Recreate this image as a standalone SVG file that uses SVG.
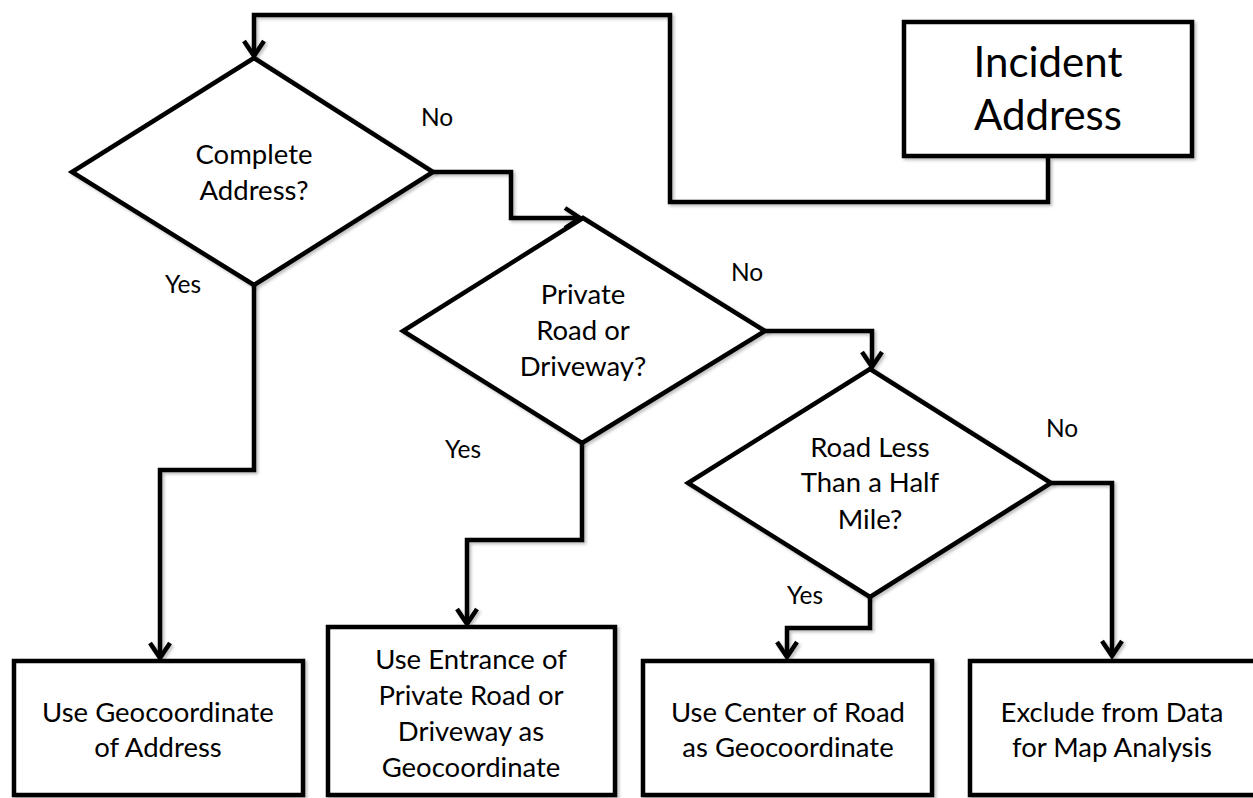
<svg xmlns="http://www.w3.org/2000/svg" width="1253" height="798" viewBox="0 0 1253 798">
  <defs>
    <marker id="arrow" markerUnits="userSpaceOnUse" markerWidth="32" markerHeight="32" viewBox="-16 -16 32 32" refX="0" refY="0" orient="auto" overflow="visible">
      <path d="M-15,-10 L0,0 L-15,10" fill="none" stroke="#000" stroke-width="4.5"/>
    </marker>
    <filter id="shadow" x="-10%" y="-10%" width="130%" height="130%">
      <feDropShadow dx="2" dy="2" stdDeviation="1.5" flood-color="#000" flood-opacity="0.25"/>
    </filter>
    <style>
      .shape { fill: #fff; stroke: #000; stroke-width: 4.5; stroke-linejoin: miter; }
      .conn { fill: none; stroke: #000; stroke-width: 4.5; stroke-linejoin: miter; }
      text { font-family: Lato, "Open Sans", "Liberation Sans", sans-serif; fill: #000; text-anchor: middle; }
      .t { font-size: 27.5px; }
      .lbl { font-size: 24.5px; }
      .big { font-size: 42px; }
    </style>
  </defs>
  <rect width="1253" height="798" fill="#fff"/>

  <g id="connectors" filter="url(#shadow)">
    <path class="conn" d="M1048,158 V202 H670 V15 H254 V56" marker-end="url(#arrow)"/>
    <path class="conn" d="M433,172 H511 V218 H580" marker-end="url(#arrow)"/>
    <path class="conn" d="M765,331 H872 V367" marker-end="url(#arrow)"/>
    <path class="conn" d="M1051,483 H1112 V656" marker-end="url(#arrow)"/>
    <path class="conn" d="M870,597 V628 H787 V657" marker-end="url(#arrow)"/>
    <path class="conn" d="M582,443 V540 H467 V624" marker-end="url(#arrow)"/>
    <path class="conn" d="M254,285 V470 H160 V658" marker-end="url(#arrow)"/>
  </g>

  <g id="labels">
    <text class="lbl" x="437" y="126">No</text>
    <text class="lbl" x="183" y="293">Yes</text>
    <text class="lbl" x="747" y="281">No</text>
    <text class="lbl" x="463" y="458">Yes</text>
    <text class="lbl" x="1062" y="437">No</text>
    <text class="lbl" x="805" y="604">Yes</text>
  </g>

  <g id="incident">
    <rect class="shape" x="904" y="22" width="288" height="134" filter="url(#shadow)"/>
    <text class="big" x="1048" y="77">Incident</text>
    <text class="big" x="1048" y="130">Address</text>
  </g>

  <g id="d-complete">
    <polygon class="shape" points="254,58 433,172 254,285 72,172" filter="url(#shadow)"/>
    <text class="t" x="254" y="164">Complete</text>
    <text class="t" x="254" y="200">Address?</text>
  </g>

  <g id="d-private">
    <polygon class="shape" points="583,218 765,331 582,443 403,331" filter="url(#shadow)"/>
    <text class="t" x="583" y="304">Private</text>
    <text class="t" x="583" y="340">Road or</text>
    <text class="t" x="583" y="376">Driveway?</text>
  </g>

  <g id="d-half">
    <polygon class="shape" points="870,369 1051,483 870,597 688,483" filter="url(#shadow)"/>
    <text class="t" x="870" y="457">Road Less</text>
    <text class="t" x="870" y="492">Than a Half</text>
    <text class="t" x="870" y="529">Mile?</text>
  </g>

  <g id="b-address">
    <rect class="shape" x="14" y="661" width="289" height="134" filter="url(#shadow)"/>
    <text class="t" x="158" y="722">Use Geocoordinate</text>
    <text class="t" x="158" y="757">of Address</text>
  </g>

  <g id="b-entrance">
    <rect class="shape" x="328" y="627" width="287" height="168" filter="url(#shadow)"/>
    <text class="t" x="471" y="669">Use Entrance of</text>
    <text class="t" x="471" y="705">Private Road or</text>
    <text class="t" x="471" y="741">Driveway as</text>
    <text class="t" x="471" y="777">Geocoordinate</text>
  </g>

  <g id="b-center">
    <rect class="shape" x="643" y="661" width="289" height="134" filter="url(#shadow)"/>
    <text class="t" x="788" y="722">Use Center of Road</text>
    <text class="t" x="788" y="757">as Geocoordinate</text>
  </g>

  <g id="b-exclude">
    <rect class="shape" x="970" y="661" width="300" height="134" filter="url(#shadow)"/>
    <text class="t" x="1112" y="722">Exclude from Data</text>
    <text class="t" x="1112" y="757">for Map Analysis</text>
  </g>
</svg>
